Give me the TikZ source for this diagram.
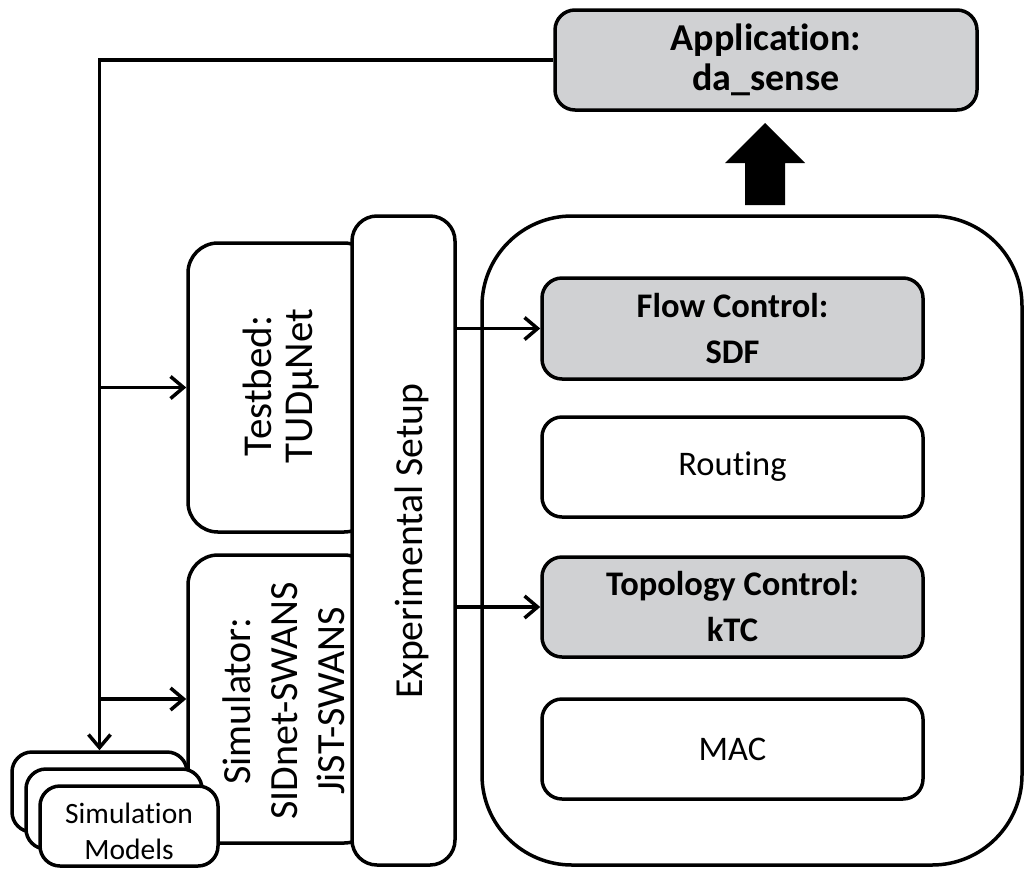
\documentclass[tikz,border=0pt]{standalone}
\usepackage{fontspec}
\setmainfont{Carlito}[RawFeature={-liga;-clig;-calt;-rlig;-dlig}]
\usetikzlibrary{arrows.meta}
\definecolor{boxgray}{RGB}{208,209,211}
\newcommand{\nolig}{\kern0pt\relax}
\begin{document}
\begin{tikzpicture}[x=1pt,y=-1pt,line width=3.5pt,
  box/.style={draw,fill=white,rounded corners=#1,inner sep=0pt,align=center},
  box/.default=20pt,
  graybox/.style={box,fill=boxgray},
  lbl/.style={inner sep=0pt,align=center},
  arr/.style={-{Straight Barb[length=13pt,width=22pt,line width=3.5pt]}},
  rfont/.style={font=\fontsize{34.5}{42}\selectfont},
  rbfont/.style={font=\bfseries\fontsize{34.5}{46}\selectfont}
]
\useasboundingbox (0,0) rectangle (1030,868);

% left boxes (behind)
\node[box=30pt,minimum width=186pt,minimum height=289pt] (tb) at (281,387.5) {};
\node[box=30pt,minimum width=186pt,minimum height=288pt] (sim) at (281,699) {};

% simulation models stack
\node[box,minimum width=175pt,minimum height=80pt] (m1) at (99.5,792) {};
\node[box,minimum width=176pt,minimum height=80pt] (m2) at (114,809) {};
\node[box,minimum width=178pt,minimum height=80pt] (m3) at (129,826) {};
\node[lbl,font=\fontsize{29.5}{36}\selectfont] (m3t) at (129,831) {Simulat\nolig ion\\Models};

% experimental setup
\node[box=25pt,minimum width=103pt,minimum height=649pt] (exp) at (403.5,540.5) {};

% text of left boxes
\node[lbl,rotate=90,font=\fontsize{41}{41}\selectfont] (tbt) at (281,386) {Testbed:\\TUDµNet};
\node[lbl,rotate=90,font=\fontsize{40}{47}\selectfont] (simt) at (284,701) {Simulator:\\SIDnet-SWANS\\JiST-SWANS};
\node[lbl,rotate=90,anchor=base,font=\fontsize{39.7}{46}\selectfont] (expt) at (422,541) {Experimental Setup};

% big stack box
\node[box=90pt,fill=none,minimum width=540pt,minimum height=649pt] (big) at (752,540.5) {};

% application and layers
\node[graybox,minimum width=422pt,minimum height=100pt,font=\bfseries\fontsize{38}{40}\selectfont] (app) at (766,60) {Applicat\nolig ion:\\da\_sense};
\node[graybox,minimum width=381pt,minimum height=101pt,rbfont] (flow) at (732.5,328.5) {Flow Control:\\SDF};
\node[box,minimum width=381pt,minimum height=100pt,rfont] (rout) at (732.5,467) {Rout\nolig ing};
\node[graybox,minimum width=381pt,minimum height=100pt,rbfont] (topo) at (732.5,607) {Topology Control:\\kTC};
\node[box,minimum width=381pt,minimum height=100pt,rfont] (mac) at (732.5,749) {MAC};

% connectors
\draw[arr] (app.west) -| (m1.north);
\draw[arr] (m1.north |- tb.west) -- (tb.west);
\draw[arr] (m1.north |- sim.west) -- (sim.west);
\draw[arr] (exp.east |- flow.west) -- (flow.west);
\draw[arr] (exp.east |- topo.west) -- (topo.west);

% thick block arrow
\fill (745,205) -- (745,163) -- (725,163) -- (765,123) -- (805,163) -- (785,163) -- (785,205) -- cycle;
\end{tikzpicture}
\end{document}
